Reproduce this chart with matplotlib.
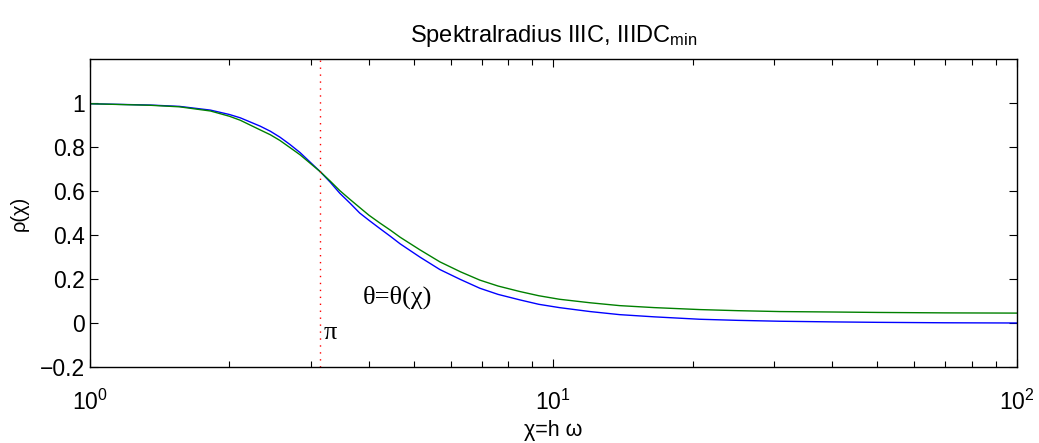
import matplotlib
matplotlib.use('Agg')
import matplotlib.pyplot as plt
from matplotlib.ticker import FixedLocator, FixedFormatter
import numpy as np

plt.rcParams['font.family'] = ['Liberation Sans', 'DejaVu Sans']
plt.rcParams['mathtext.fontset'] = 'custom'
plt.rcParams['mathtext.rm'] = 'Liberation Sans'
plt.rcParams['mathtext.it'] = 'Liberation Sans'

# chi = h*omega values
chi = [1.0, 1.35, 1.56, 1.82, 2.0, 2.11, 2.33, 2.45, 2.57, 2.7, 2.84, 3.14,
       3.3, 3.46, 3.64, 3.82, 4.0, 4.22, 4.45, 4.67, 5.15, 5.69, 6.3, 6.94,
       7.6, 8.47, 9.3, 10.3, 12.0, 13.9, 16.5, 20.7, 25.0, 30.8, 40.0, 50.0,
       70.0, 100.0]
rho_iiic = [0.997, 0.991, 0.985, 0.968, 0.948, 0.933, 0.895, 0.872, 0.845,
            0.812, 0.775, 0.688, 0.64, 0.59, 0.545, 0.50, 0.467, 0.43, 0.394,
            0.36, 0.30, 0.243, 0.198, 0.158, 0.13, 0.105, 0.085, 0.07, 0.052,
            0.038, 0.028, 0.017, 0.012, 0.008, 0.005, 0.003, 0.001, 0.0]
rho_iiidc = [0.997, 0.99, 0.983, 0.964, 0.94, 0.922, 0.878, 0.856, 0.83,
             0.798, 0.765, 0.688, 0.645, 0.602, 0.562, 0.525, 0.49, 0.455,
             0.422, 0.39, 0.333, 0.278, 0.233, 0.195, 0.168, 0.143, 0.124,
             0.108, 0.092, 0.079, 0.07, 0.061, 0.056, 0.052, 0.05, 0.048,
             0.046, 0.045]

yticks = [-0.2, 0, 0.2, 0.4, 0.6, 0.8, 1]
ylabels = ['\u22120.2', '0', '0.2', '0.4', '0.6', '0.8', '1']

fig = plt.figure(figsize=(10.39, 4.43), dpi=100, facecolor='white')
ax = fig.add_axes([0.0866, 0.1716, 0.892, 0.695])

ax.semilogx(chi, rho_iiic, color=(0, 0, 1), linewidth=1)
ax.semilogx(chi, rho_iiidc, color=(0, 0.5, 0), linewidth=1)
ax.axvline(np.pi, color='red', linestyle=(0, (1, 4)), linewidth=1)

ax.text(4.6, 0.115, '\u03b8=\u03b8(\u03c7)', family=['Liberation Serif', 'DejaVu Serif'],
        fontsize=19, ha='center', va='center')
ax.text(3.2, -0.045, '\u03c0', family=['Liberation Serif', 'DejaVu Serif'],
        fontsize=19, ha='left', va='center')

ax.set_xlim(1, 100)
ax.set_ylim(-0.2, 1.2)
ax.yaxis.set_major_locator(FixedLocator(yticks))
ax.yaxis.set_major_formatter(FixedFormatter(ylabels))

ax.tick_params(which='both', direction='in', top=True, right=True, labelsize=16.5)
ax.tick_params(which='major', length=6, width=0.8)
ax.tick_params(which='minor', length=4, width=0.8)
ax.tick_params(axis='x', pad=16)
for s in ax.spines.values():
    s.set_linewidth(1.0)

ax.set_title('Spektralradius IIIC, IIIDC$_{\\mathrm{min}}$', fontsize=17, pad=12)
ax.set_xlabel('\u03c7=h \u03c9', fontsize=15.5, labelpad=4)
ax.set_ylabel('\u03c1(\u03c7)', fontsize=14.5, labelpad=8)

fig.savefig('out.png', dpi=100, facecolor='white')
